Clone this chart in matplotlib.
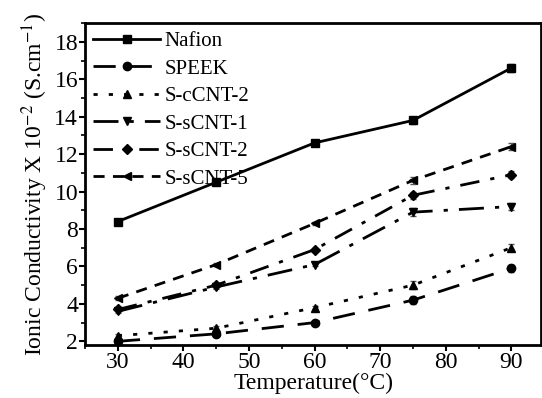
import numpy as np
import matplotlib
matplotlib.use("Agg")
import matplotlib.pyplot as plt
from matplotlib.ticker import MultipleLocator

plt.rcParams['font.family'] = ['Liberation Serif', 'DejaVu Serif']
plt.rcParams['mathtext.fontset'] = 'stix'

temps = [30, 45, 60, 75, 90]
nafion = [8.4, 10.5, 12.6, 13.8, 16.6]
speek = [2.0, 2.4, 3.0, 4.2, 5.9]
s_ccnt_2 = [2.3, 2.7, 3.8, 5.0, 7.0]
s_scnt_1 = [3.6, 4.9, 6.1, 8.9, 9.2]
s_scnt_2 = [3.7, 5.0, 6.9, 9.8, 10.9]
s_scnt_5 = [4.3, 6.1, 8.3, 10.6, 12.4]
err = [0.1, 0.1, 0.1, 0.2, 0.2]

series = [
    ("Nafion", nafion, 's', '-'),
    ("SPEEK", speek, 'o', (0, (8, 5))),
    ("S-cCNT-2", s_ccnt_2, '^', (0, (1.5, 4))),
    ("S-sCNT-1", s_scnt_1, 'v', (0, (9, 4, 1.5, 4))),
    ("S-sCNT-2", s_scnt_2, 'D', (0, (7, 4, 1.5, 4))),
    ("S-sCNT-5", s_scnt_5, '<', (0, (4, 3))),
]

fig = plt.figure(figsize=(5.42, 3.98), dpi=100)
ax = fig.add_axes([0.157, 0.133, 0.842, 0.809])

for name, vals, mk, ls in series:
    ms = 5 if mk == 'D' else 6
    # error bars drawn separately so the legend only shows line + marker
    ax.errorbar(temps, vals, yerr=err, fmt='none', elinewidth=0.8, capsize=2,
                ecolor='#555555')
    ax.plot(temps, vals, color='black', marker=mk, markersize=ms,
            linestyle=ls, linewidth=2, label=name)

ax.set_xlim(25, 94.6)
ax.set_ylim(1.8, 19.0)
ax.xaxis.set_major_locator(MultipleLocator(10))
ax.xaxis.set_minor_locator(MultipleLocator(5))
ax.yaxis.set_major_locator(MultipleLocator(2))
ax.yaxis.set_minor_locator(MultipleLocator(1))
ax.tick_params(which='major', direction='out', length=4, width=1.5, labelsize=17, pad=1)
ax.tick_params(which='minor', direction='out', length=3, width=1.2)
for s in ax.spines.values():
    s.set_linewidth(2)

ax.set_xlabel("Temperature(°C)", fontsize=17, labelpad=0)
ax.set_ylabel(r"Ionic Conductivity X 10$^{-2}$ (S.cm$^{-1}$)", fontsize=17, labelpad=3)

leg = ax.legend(loc='upper left', frameon=False, fontsize=15, handlelength=3.2,
                handletextpad=0.2, labelspacing=0.38, borderaxespad=0.0,
                numpoints=1, bbox_to_anchor=(0.0, 1.0))

fig.savefig("out.png", dpi=100)
